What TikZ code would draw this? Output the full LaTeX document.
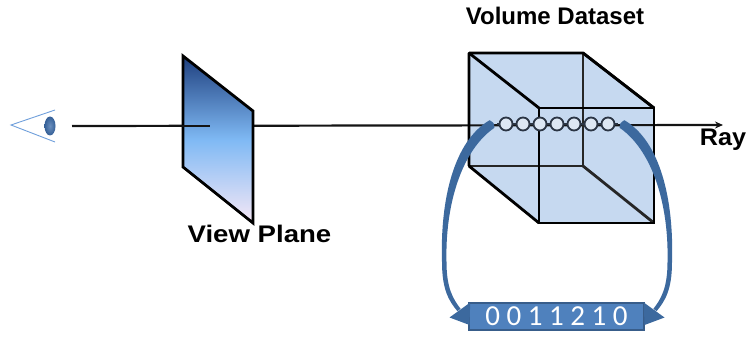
\documentclass[tikz,border=0pt]{standalone}
\usepackage{fontspec}
\setmainfont{Liberation Sans}
\newfontfamily\digitfont{Carlito}
\usetikzlibrary{arrows.meta,shapes.geometric}

\definecolor{eyeblue}{HTML}{6F9FDB}
\definecolor{pupil}{HTML}{3A6AA8}
\definecolor{planetop}{HTML}{1E3F7E}
\definecolor{planemid}{HTML}{7FB9F4}
\definecolor{planebot}{HTML}{F6E8F6}
\definecolor{cubefill}{HTML}{C6D9F0}
\definecolor{beadline}{HTML}{2B3544}
\definecolor{beadfill}{HTML}{DDE7F3}
\definecolor{flowblue}{HTML}{3C699E}
\definecolor{boxfill}{HTML}{4F81BD}
\definecolor{boxedge}{HTML}{385D8A}

\begin{document}
\begin{tikzpicture}[x=1pt,y=-1pt,
  edge/.style={line width=2.8pt, line join=miter, black},
  ray/.style={line width=2.2pt, color=black!92},
  bead/.style={circle, draw=beadline, fill=beadfill, line width=1.8pt,
               minimum size=13pt, inner sep=0pt},
  label/.style={font=\bfseries\fontsize{24}{26}\selectfont, inner sep=0pt},
  codebox/.style={draw=boxedge, fill=boxfill, line width=1.4pt,
                  minimum width=175pt, minimum height=27pt, inner sep=0pt,
                  text=white, font=\digitfont\fontsize{29}{30}\selectfont},
  flow/.style={fill=flowblue}]
\useasboundingbox (0,0) rectangle (749,339);

% eye
\draw[eyeblue, line width=0.9pt] (55,110) -- (11,125) -- (55,142);
\node[ellipse, minimum width=11pt, minimum height=19pt, inner sep=0pt,
      inner color=pupil!75, outer color=pupil!90!black] (eye) at (50,126) {};

% ray coordinates
\coordinate (r0) at (72,126);
\coordinate (rstub) at (210,126);
\coordinate (r1) at (723,125);

% volume hull fill
\fill[cubefill] (469,53) -- (583,53) -- (654,108) -- (654,223) -- (539,223) -- (469,166) -- cycle;

% the ray
\draw[ray, -{Stealth[length=8pt,width=7pt]}] (r0) -- (r1);

% view plane
\shade[top color=planetop, bottom color=planebot, middle color=planemid]
  (183,56) -- (253,111) -- (253,223) -- (183,167) -- cycle;
\draw[edge] (183,56) -- (253,111) -- (253,223) -- (183,167) -- cycle;
\draw[ray] (r0) -- (rstub);

% volume wireframe
\draw[edge, black!85] (469,53) rectangle (583,166);
\draw[edge, black!85] (583,53) -- (654,108)
                      (583,166) -- (654,223);
\draw[edge] (469,53) -- (539,108) (469,166) -- (539,223);
\draw[edge] (539,108) rectangle (654,223);
\draw[edge] (469,53) -- (583,53) -- (654,108) (469,53) -- (469,166);

% sample points along the ray
\draw[beadline, line width=1.5pt] (497,124) -- (618,124);
\foreach \i in {0,...,6}
  \node[bead] (s\i) at (506+17*\i,124) {};

% value strip
\node[codebox] (code) at (556.5,316.5) {0 0 1 1 2 1 0};

% curved arrows from the ray to the value strip
\begin{scope}
  \fill[flow] (489.6,120.2) .. controls (454,141) and (440,199) .. (442,262)
     .. controls (442,290) and (449,301) .. (457.4,311.2)
     -- (460.6,308.8) .. controls (453,299) and (446.5,288) .. (446.5,262)
     .. controls (445,204) and (462,150) .. (494.4,127.8)
     .. controls (494,123) .. cycle;
  \fill[flow] (470.2,302.5) -- (469.5,325) -- (449.5,317.5) -- cycle;
\end{scope}
\begin{scope}[xshift=1114pt, xscale=-1]
  \fill[flow] (489.6,120.2) .. controls (454,141) and (440,199) .. (442,262)
     .. controls (442,290) and (449,301) .. (457.4,311.2)
     -- (460.6,308.8) .. controls (453,299) and (446.5,288) .. (446.5,262)
     .. controls (445,204) and (462,150) .. (494.4,127.8)
     .. controls (494,123) .. cycle;
  \fill[flow] (470.2,302.5) -- (469.5,325) -- (449.5,317.5) -- cycle;
\end{scope}

% labels
\node[label, anchor=base] (vol) at (555,25) {Volume Dataset};
\node[label, anchor=base] (vp) at (259.5,242) {\scalebox{1.15}[1]{View Plane}};
\node[label, anchor=base] (raylab) at (723,146) {\scalebox{1.05}[1]{Ray}};
\end{tikzpicture}
\end{document}
